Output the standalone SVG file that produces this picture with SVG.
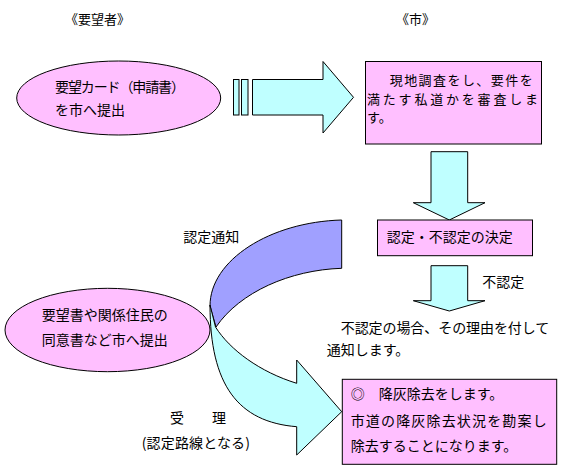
<svg xmlns="http://www.w3.org/2000/svg" width="566" height="471" viewBox="0 0 566 471">
<style>
text{font-family:"Noto Sans CJK JP","Noto Sans CJK SC",sans-serif;font-size:14px;fill:#000}
.t13{font-size:13px}
.pink{fill:#FFBFFF;stroke:#000;stroke-width:1}
.cyan{fill:#BFFFFF;stroke:#000;stroke-width:1}
.blue{fill:#A0A0FF;stroke:#000;stroke-width:1}
</style>
<rect width="566" height="471" fill="#fff"/>
<g id="labels">
<text class="t13" x="65" y="24">《要望者》</text>
<text class="t13" x="396" y="24">《市》</text>
</g>
<g id="connectors">
<rect class="cyan" x="233.5" y="79.5" width="5.5" height="35.5"/>
<rect class="cyan" x="241.5" y="79.5" width="6.5" height="35.5"/>
<path class="cyan" d="M252.5,79.5 H323 V61.5 L353.5,97.3 L323,133 V115 H252.5 Z"/>
<path class="cyan" d="M431,151.7 H467.7 V202.7 H485 L449.3,220 L413.3,202.7 H431 Z"/>
<path class="cyan" d="M431,265.7 H467.7 V300.7 H485 L449.3,311 L413.3,300.7 H431 Z"/>
<path class="blue" d="M341.7,220 C270,222 210,260 210,306 L216,327 C240,292 290,270 341.7,268.3 Z"/>
<path class="cyan" d="M210,305 C210,385 238,422 296.7,426.7 L296.7,455 L341.7,411.7 L296.7,360 L296.7,383.3 C260,372 230,350 215.5,327 Z"/>
<text x="183.3" y="242">認定通知</text>
<text x="482.3" y="286.5">不認定</text>
<text x="170" y="423">受　　理</text>
<text x="141.7" y="448" textLength="108.3">(認定路線となる)</text>
</g>
<g id="node-request">
<ellipse class="pink" cx="118.7" cy="98" rx="102" ry="37"/>
<text x="55" y="92" textLength="130">要望カード（申請書）</text>
<text x="55" y="115">を市へ提出</text>
</g>
<g id="node-survey">
<rect class="pink" x="365.5" y="61.5" width="176" height="82.5"/>
<text class="t13" x="389.7" y="85" textLength="143">現地調査をし、要件を</text>
<text class="t13" x="367" y="103.5" textLength="171">満たす私道かを審査しま</text>
<text class="t13" x="367" y="122">す。</text>
</g>
<g id="node-decision">
<rect class="pink" x="377.5" y="220" width="155" height="35.7"/>
<text x="386.7" y="242">認定・不認定の決定</text>
</g>
<g id="node-reject">
<text x="340.7" y="332.5" textLength="208.6">不認定の場合、その理由を付して</text>
<text x="326.7" y="355">通知します。</text>
</g>
<g id="node-consent">
<ellipse class="pink" cx="107.5" cy="330" rx="102.5" ry="41.7"/>
<text x="41.7" y="320">要望書や関係住民の</text>
<text x="41.7" y="345">同意書など市へ提出</text>
</g>
<g id="node-ash">
<rect class="pink" x="342.3" y="379.3" width="214.4" height="85"/>
<text x="350.7" y="398.5">◎　降灰除去をします。</text>
<text x="350.7" y="426" textLength="196">市道の降灰除去状況を勘案し</text>
<text x="350.7" y="451">除去することになります。</text>
</g>
</svg>
